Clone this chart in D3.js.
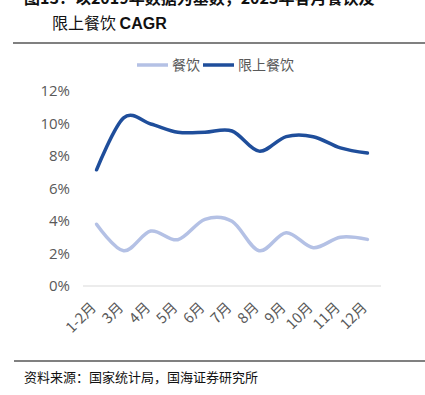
<!DOCTYPE html>
<html>
<head>
<meta charset="utf-8">
<script src="https://cdn.jsdelivr.net/npm/d3@7"></script>
<style>
  html, body { margin: 0; padding: 0; background: #fff; }
  svg { display: block; }
</style>
</head>
<body>
<div id="chart"></div>
<script>
// months, series values (%)
const months = ["1-2月", "3月", "4月", "5月", "6月", "7月", "8月", "9月", "10月", "11月", "12月"];
const catering = [3.8, 2.17, 3.38, 2.85, 4.1, 3.98, 2.17, 3.28, 2.36, 3.0, 2.87];
const cateringAbove = [7.15, 10.35, 9.97, 9.46, 9.46, 9.54, 8.3, 9.19, 9.19, 8.5, 8.18];
const yTicks = [0, 2, 4, 6, 8, 10, 12];
const seriesNames = ["餐饮", "限上餐饮"];
const seriesColors = ["#b4c1e5", "#1f4e9b"];

const width = 425, height = 395;
const margin = { top: 91, right: 44, bottom: 109, left: 83 };
const cjk = "'Noto Sans CJK SC', 'Noto Sans', sans-serif";

const svg = d3.select("#chart").append("svg")
  .attr("width", width)
  .attr("height", height);

// Title (first line is cut by the top edge, as in the source)
svg.append("text")
  .attr("x", 24).attr("y", 4)
  .attr("font-family", cjk).attr("font-size", 16).attr("font-weight", "bold")
  .attr("fill", "#111")
  .text("图13：以2019年数据为基数，2023年各月餐饮及");

const t2 = svg.append("text")
  .attr("x", 52).attr("y", 29)
  .attr("font-family", cjk).attr("font-size", 16)
  .attr("fill", "#111");
t2.append("tspan").text("限上餐饮 ");
t2.append("tspan").attr("font-family", "'Liberation Sans', Arial, sans-serif")
  .attr("font-weight", "bold").text("CAGR");

svg.append("line")
  .attr("x1", 13).attr("x2", width).attr("y1", 43).attr("y2", 43)
  .attr("stroke", "#808080").attr("stroke-width", 2);

const x = d3.scaleBand()
  .domain(months)
  .range([margin.left, width - margin.right]);

const y = d3.scaleLinear()
  .domain([0, 12])
  .range([height - margin.bottom, margin.top]);

// baseline grid
svg.append("line")
  .attr("x1", margin.left).attr("x2", width - margin.right)
  .attr("y1", y(0)).attr("y2", y(0))
  .attr("stroke", "#d9d9d9").attr("stroke-width", 1);

// y axis labels
const yAxis = svg.append("g")
  .attr("transform", `translate(${margin.left - 10},0)`)
  .call(d3.axisLeft(y).tickValues(yTicks).tickSize(0).tickFormat(d => d + "%"));
yAxis.select(".domain").remove();
yAxis.selectAll("text")
  .attr("font-family", "'Open Sans', 'Noto Sans', sans-serif")
  .attr("font-size", 15).attr("fill", "#595959");

// x axis labels, rotated
const xAxis = svg.append("g")
  .attr("transform", `translate(0,${y(0)})`)
  .call(d3.axisBottom(x).tickSize(0));
xAxis.select(".domain").remove();
xAxis.selectAll("text")
  .attr("font-family", cjk)
  .attr("font-size", 14.5).attr("fill", "#595959")
  .attr("text-anchor", "end")
  .attr("x", 0).attr("y", 0)
  .attr("dy", "0.35em")
  .attr("transform", "translate(-3,19) rotate(-45)");

// lines
const line = d3.line()
  .x((d, i) => x(months[i]) + x.bandwidth() / 2)
  .y(d => y(d))
  .curve(d3.curveCardinal.tension(0));

[catering, cateringAbove].forEach((vals, k) => {
  svg.append("path")
    .datum(vals)
    .attr("d", line)
    .attr("fill", "none")
    .attr("stroke", seriesColors[k])
    .attr("stroke-width", 3.5)
    .attr("stroke-linecap", "round");
});

// legend
const legend = svg.append("g").attr("transform", "translate(137,65)");
const legendX = [0, 66];
seriesNames.forEach((name, k) => {
  const g = legend.append("g").attr("transform", `translate(${legendX[k]},0)`);
  g.append("line").attr("x1", 0).attr("x2", 31).attr("y1", 0).attr("y2", 0)
    .attr("stroke", seriesColors[k]).attr("stroke-width", 3.5);
  g.append("text").attr("x", 35).attr("y", 5)
    .attr("font-family", cjk).attr("font-size", 14).attr("fill", "#595959")
    .text(name);
});

// footer
svg.append("line")
  .attr("x1", 14).attr("x2", width).attr("y1", 361).attr("y2", 361)
  .attr("stroke", "#808080").attr("stroke-width", 2);

svg.append("text")
  .attr("x", 24).attr("y", 382)
  .attr("font-family", cjk).attr("font-size", 13).attr("fill", "#111")
  .text("资料来源：国家统计局，国海证券研究所");
</script>
</body>
</html>
